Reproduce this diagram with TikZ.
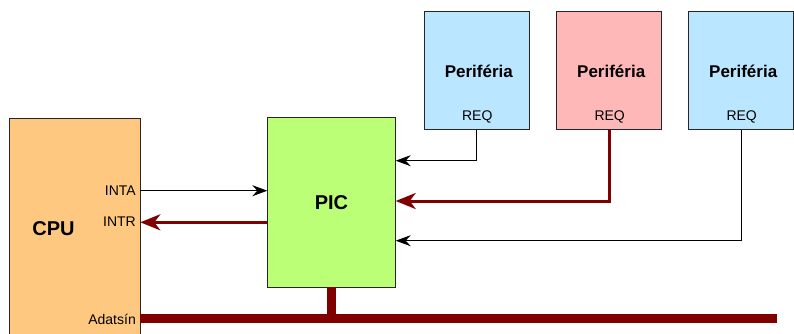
\documentclass[tikz,border=0pt]{standalone}
\usepackage{fontspec}
\setmainfont{Liberation Sans}
\usetikzlibrary{arrows.meta,calc}
\definecolor{cpuor}{HTML}{FFC880}
\definecolor{picgr}{HTML}{BBFF77}
\definecolor{perbl}{HTML}{BBE6FF}
\definecolor{perpk}{HTML}{FFB8B8}
\definecolor{busred}{HTML}{800000}
\tikzset{
  box/.style={draw=black!85, line width=1pt, inner sep=0pt, outer sep=0pt, anchor=north west},
  big/.style={font=\fontsize{20}{22}\selectfont\bfseries},
  pername/.style={font=\fontsize{17}{19}\selectfont\bfseries},
  small/.style={font=\fontsize{14}{16}\selectfont, inner sep=0pt},
  blk/.style={draw=black, line width=1pt, -{Stealth[length=15pt,width=11pt,inset=5pt]}},
  red/.style={draw=busred, line width=3pt, -{Stealth[length=20pt,width=16pt,inset=6pt]}},
  bus/.style={draw=busred, line width=9pt},
}
\begin{document}
\begin{tikzpicture}[x=1pt,y=-1pt]
\useasboundingbox (0,0) rectangle (794,333);
% boxes
\node[box, fill=cpuor, minimum width=131pt, minimum height=240pt] (cpu) at (9.3,118) {};
\node[box, fill=picgr, minimum width=128.4pt, minimum height=169.6pt] (pic) at (267.3,117.7) {};
\node[box, fill=perbl, minimum width=105pt, minimum height=118.7pt] (p1) at (424.3,11) {};
\node[box, fill=perpk, minimum width=105pt, minimum height=118.7pt] (p2) at (556.7,11) {};
\node[box, fill=perbl, minimum width=105pt, minimum height=118.7pt] (p3) at (688.7,11) {};
% titles
\node[big] (cputxt) at (53.5,229) {CPU};
\node[big] (pictxt) at (331.5,202.5) {PIC};
\foreach \p in {p1,p2,p3}{
  \node[pername] (\p t) at ($(\p.north)+(2,60)$) {Periféria};
  \node[small] (\p r) at ($(\p.north)+(0.5,106)$) {REQ};
}
% CPU labels
\node[small, anchor=east] (inta) at (136,190.5) {INTA};
\node[small, anchor=east] (intr) at (136,222) {INTR};
\node[small, anchor=east] (adat) at (136,319) {Adatsín};
% entry points on PIC
\coordinate (in1) at (395.7,160.7);
\coordinate (in2) at (395.7,201);
\coordinate (in3) at (395.7,240.7);
% connectors
\draw[blk] (cpu.east |- 0,190.7) -- (pic.west |- 0,190.7);
\draw[red] (pic.west |- 0,222.3) -- (cpu.east |- 0,222.3);
\draw[blk] (p1.south) |- (in1);
\draw[red] (p2.south) |- (in2);
\draw[blk] (p3.south) |- (in3);
% bus
\coordinate (busL) at (140,318.3);
\coordinate (busR) at (776.7,318.3);
\draw[bus] (busL) -- (busR);
\draw[draw=busred, line width=8.7pt] (pic.south) -- (pic.south |- busL);
\end{tikzpicture}
\end{document}
